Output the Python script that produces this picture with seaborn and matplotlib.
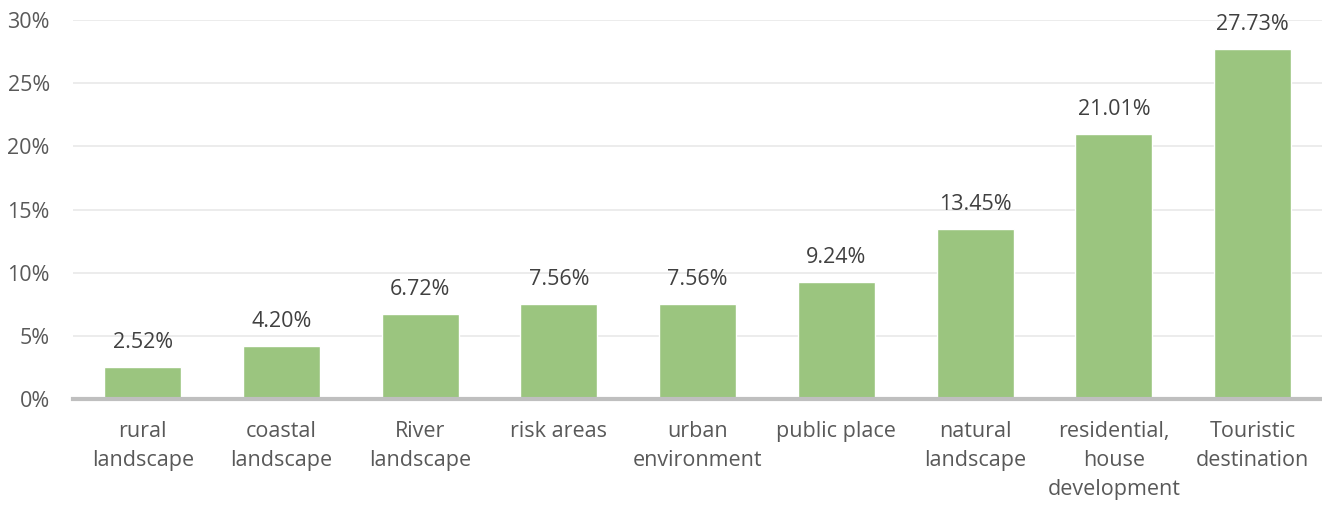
import matplotlib
matplotlib.use("Agg")
import matplotlib.pyplot as plt
import seaborn as sns
import pandas as pd
from matplotlib.ticker import FuncFormatter

categories = ["rural\nlandscape", "coastal\nlandscape", "River\nlandscape", "risk areas",
              "urban\nenvironment", "public place", "natural\nlandscape",
              "residential,\nhouse\ndevelopment", "Touristic\ndestination"]
values = [2.52, 4.20, 6.72, 7.56, 7.56, 9.24, 13.45, 21.01, 27.73]
yticks = [0, 5, 10, 15, 20, 25, 30]

sns.set_theme(style="white")
plt.rcParams['font.family'] = ['Open Sans', 'DejaVu Sans']

df = pd.DataFrame({"cat": categories, "val": values})

fig = plt.figure(figsize=(13.22, 5.05), dpi=100)
ax = fig.add_axes([0.0555, 0.21, 0.9445, 0.75])
sns.barplot(data=df, x="cat", y="val", color="#9BC57F", saturation=1, width=0.555, ax=ax)

ax.set_ylim(0, 30)
ax.set_yticks(yticks)
ax.yaxis.set_major_formatter(FuncFormatter(lambda v, p: f"{int(v)}%"))
ax.set_xlim(-0.5, len(categories) - 0.5)
ax.grid(axis="y", color="#EBEBEB", linewidth=1.3)
ax.set_axisbelow(True)
for s in ["top", "right", "left"]:
    ax.spines[s].set_visible(False)
ax.spines["bottom"].set_color("#BFBFBF")
ax.spines["bottom"].set_linewidth(3)
ax.tick_params(axis="both", length=0, colors="#595959", labelsize=15.5)
ax.tick_params(axis="y", pad=17)
ax.tick_params(axis="x", pad=16)
for lbl in ax.get_xticklabels():
    lbl.set_linespacing(1.48)
ax.set_xlabel("")
ax.set_ylabel("")

for i, v in enumerate(values):
    ax.annotate(f"{v:.2f}%", (i, v), xytext=(0, 10), textcoords="offset points",
                ha="center", va="bottom", fontsize=15.5, color="#404040")

fig.savefig("out.png", dpi=100)
